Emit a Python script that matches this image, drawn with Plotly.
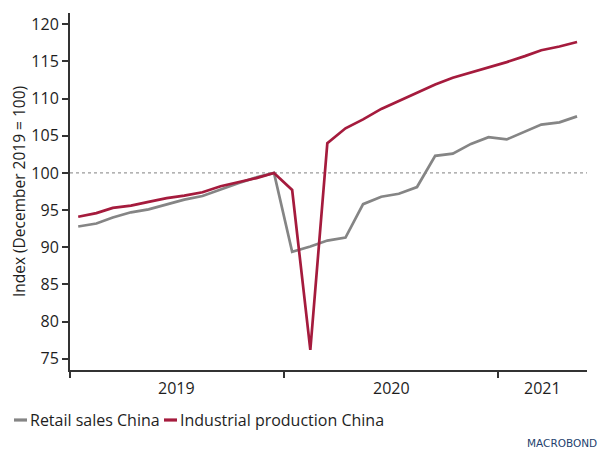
import pandas as pd
import plotly.graph_objects as go

# Monthly observations, Jan 2019 - May 2021 (mid-month stamps)
months = pd.date_range("2019-01-01", "2021-05-01", freq="MS") + pd.Timedelta(days=14)

retail_sales = [
    92.8, 93.2, 94.0, 94.7, 95.1, 95.8, 96.4, 96.9, 97.8, 98.6, 99.4, 100.0,
    89.4, 90.1, 90.9, 91.3, 95.8, 96.8, 97.2, 98.1, 102.3, 102.6, 103.9, 104.8,
    104.5, 105.5, 106.5, 106.8, 107.6,
]
industrial_production = [
    94.1, 94.6, 95.3, 95.6, 96.1, 96.6, 96.95, 97.4, 98.2, 98.7, 99.3, 100.0,
    97.7, 76.2, 104.0, 106.0, 107.2, 108.6, 109.7, 110.8, 111.9, 112.8, 113.5, 114.2,
    114.9, 115.7, 116.5, 117.0, 117.6,
]
series_names = ["Retail sales China", "Industrial production China"]

year_starts = ["2019-01-01", "2020-01-01", "2021-01-01"]
year_labels = ["2019", "2020", "2021"]
year_label_pos = ["2019-07-02", "2020-07-02", "2021-03-17"]

GREY = "#858585"
RED = "#a51b3d"
FONT = "Open Sans"
FS = 16
TEXT = "#1e1e1e"

# Plot-area geometry in pixels, used to place the hand-built legend
W, H = 598, 450
L, R, T, B = 70, 11, 13, 80
PW, PH = W - L - R, H - T - B


def px_x(p):
    return (p - L) / PW


def px_y(q):
    return (H - B - q) / PH


fig = go.Figure()
for name, vals, col in zip(series_names, [retail_sales, industrial_production], [GREY, RED]):
    fig.add_trace(go.Scatter(
        x=months, y=vals, mode="lines", name=name, showlegend=False,
        line=dict(color=col, width=2.7),
    ))

# Base-period reference line
fig.add_shape(type="line", xref="paper", x0=0, x1=1, yref="y", y0=100, y1=100,
              line=dict(color="#9a9a9a", width=1.3, dash="dot"), layer="below")

# Year labels centred in each (visible) year
for pos, lab in zip(year_label_pos, year_labels):
    fig.add_annotation(x=pos, y=0, xref="x", yref="paper", yshift=-5,
                       text=lab, showarrow=False, yanchor="top",
                       font=dict(family=FONT, size=FS, color=TEXT))

# Legend: short thick swatch followed by the series name
legend_y = px_y(420)
for (sx0, sx1, tx), name, col in zip([(14, 27, 28), (164, 177, 178)], series_names, [GREY, RED]):
    fig.add_shape(type="line", xref="paper", yref="paper",
                  x0=px_x(sx0), x1=px_x(sx1), y0=legend_y, y1=legend_y,
                  line=dict(color=col, width=3.2))
    fig.add_annotation(x=px_x(tx), y=legend_y, xref="paper", yref="paper",
                       xanchor="left", yanchor="middle", text=name, showarrow=False,
                       font=dict(family=FONT, size=FS, color=TEXT))

fig.add_annotation(x=px_x(525), y=px_y(443), xref="paper", yref="paper",
                   xanchor="left", yanchor="middle",
                   text="MACROBOND", showarrow=False,
                   font=dict(family="DejaVu Sans", size=10.5, color="#243f6e"))

fig.update_layout(
    width=W, height=H,
    margin=dict(l=L, r=R, t=T, b=B),
    plot_bgcolor="white", paper_bgcolor="white",
    font=dict(family=FONT, size=FS, color=TEXT),
    showlegend=False,
    xaxis=dict(
        range=["2019-01-01", "2021-06-01"],
        tickmode="array", tickvals=year_starts, showticklabels=False,
        ticks="outside", ticklen=6, tickcolor="#333", tickwidth=1.5,
        showline=True, linecolor="#333", linewidth=2,
        showgrid=False, zeroline=False,
    ),
    yaxis=dict(
        range=[73.5, 121.5], tickmode="linear", tick0=75, dtick=5,
        ticks="outside", ticklen=6, tickcolor="#333", tickwidth=1.5,
        showline=True, linecolor="#333", linewidth=2,
        showgrid=False, zeroline=False,
        title=dict(text="Index (December 2019 = 100)", standoff=2,
                   font=dict(family=FONT, size=15.5, color=TEXT)),
        tickfont=dict(family=FONT, size=FS, color=TEXT),
    ),
)

fig.write_html("out.html")
